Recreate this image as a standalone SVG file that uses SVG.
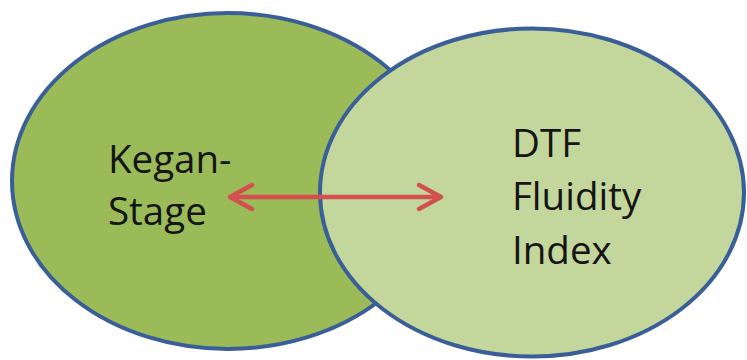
<svg xmlns="http://www.w3.org/2000/svg" width="747" height="360" viewBox="0 0 747 360">
  <style>
    .circ { stroke: #3A5E98; stroke-width: 4; }
    .lbl { font-family: "Open Sans", "Liberation Sans", sans-serif; font-size: 38.5px; fill: #151515; }
    .arrow { stroke: #D2504F; stroke-width: 4.5; fill: none; stroke-linecap: round; stroke-linejoin: round; }
  </style>
  <rect width="747" height="360" fill="#ffffff"/>
  <g id="kegan-stage">
    <ellipse class="circ" cx="228" cy="181" rx="216" ry="168" fill="#9BBB59"/>
  </g>
  <g id="dtf-fluidity-index">
    <ellipse class="circ" cx="532" cy="192.5" rx="212" ry="164" fill="#C3D69B"/>
  </g>
  <g id="labels">
    <text class="lbl" x="108" y="173">Kegan-</text>
    <text class="lbl" x="108" y="225">Stage</text>
    <text class="lbl" x="512" y="157">DTF</text>
    <text class="lbl" x="512" y="210">Fluidity</text>
    <text class="lbl" x="512" y="264">Index</text>
  </g>
  <g id="connectors">
    <line class="arrow" x1="231" y1="197" x2="440" y2="197"/>
    <polyline class="arrow" points="252,185 230,197 252,209"/>
    <polyline class="arrow" points="419,185 441,197 419,209"/>
  </g>
</svg>
